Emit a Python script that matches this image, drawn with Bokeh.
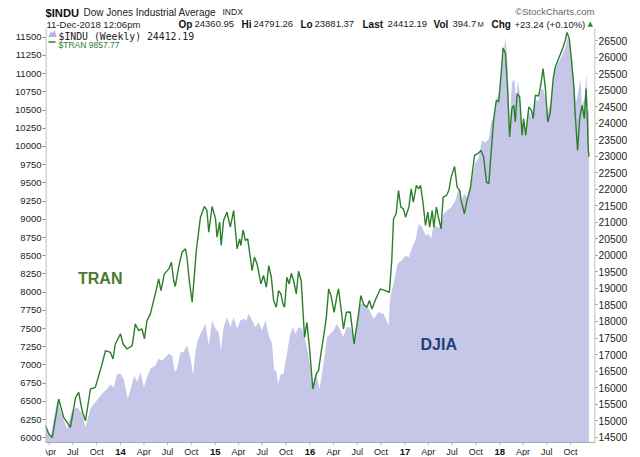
import pandas as pd
from bokeh.plotting import figure
from bokeh.models import (Range1d, LinearAxis, FixedTicker, Label,
                          PolyAnnotation, BoxAnnotation)
from bokeh.embed import file_html
from bokeh.resources import INLINE

# ---------------- data ----------------
tran_dates = [
    "2013-03-18", "2013-03-31", "2013-04-13", "2013-05-08", "2013-05-27", "2013-06-22", "2013-07-12",
    "2013-07-24", "2013-08-06", "2013-08-19", "2013-09-07", "2013-09-26", "2013-10-22", "2013-11-04",
    "2013-11-23", "2013-12-03", "2013-12-12", "2014-01-01", "2014-01-11", "2014-01-26", "2014-02-15",
    "2014-02-27", "2014-03-12", "2014-03-25", "2014-04-03", "2014-04-13", "2014-04-26", "2014-05-15",
    "2014-05-28", "2014-06-06", "2014-06-19", "2014-07-06", "2014-07-16", "2014-07-25", "2014-07-31",
    "2014-08-13", "2014-08-26", "2014-09-08", "2014-09-14", "2014-09-23", "2014-10-04", "2014-10-12",
    "2014-10-20", "2014-11-05", "2014-11-20", "2014-11-30", "2014-12-07", "2014-12-20", "2015-01-02",
    "2015-01-08", "2015-01-18", "2015-01-24", "2015-02-02", "2015-02-15", "2015-02-28", "2015-03-13",
    "2015-03-26", "2015-04-05", "2015-04-10", "2015-04-18", "2015-04-27", "2015-05-06", "2015-05-23",
    "2015-06-01", "2015-06-11", "2015-06-26", "2015-07-06", "2015-07-17", "2015-07-26", "2015-08-05",
    "2015-08-14", "2015-08-24", "2015-09-02", "2015-09-11", "2015-09-19", "2015-09-25", "2015-10-04",
    "2015-10-13", "2015-10-21", "2015-10-30", "2015-11-09", "2015-11-18", "2015-11-28", "2015-12-11",
    "2015-12-20", "2015-12-30", "2016-01-12", "2016-01-25", "2016-02-03", "2016-02-12", "2016-02-22",
    "2016-03-04", "2016-03-13", "2016-03-22", "2016-04-03", "2016-04-14", "2016-04-20", "2016-04-29",
    "2016-05-09", "2016-05-20", "2016-06-04", "2016-06-19", "2016-07-06", "2016-07-15", "2016-07-25",
    "2016-08-07", "2016-08-17", "2016-08-27", "2016-09-08", "2016-09-28", "2016-10-17", "2016-11-02",
    "2016-11-11", "2016-11-18", "2016-11-28", "2016-12-07", "2016-12-16", "2016-12-26", "2017-01-03",
    "2017-01-16", "2017-01-25", "2017-02-02", "2017-02-14", "2017-02-23", "2017-03-02", "2017-03-12",
    "2017-03-21", "2017-03-30", "2017-04-06", "2017-04-16", "2017-04-22", "2017-05-02", "2017-05-11",
    "2017-05-20", "2017-05-28", "2017-06-10", "2017-06-19", "2017-06-28", "2017-07-11", "2017-07-21",
    "2017-07-31", "2017-08-05", "2017-08-18", "2017-08-28", "2017-09-10", "2017-09-26", "2017-10-08",
    "2017-10-21", "2017-10-31", "2017-11-11", "2017-11-20", "2017-11-29", "2017-12-09", "2017-12-19",
    "2017-12-28", "2018-01-06", "2018-01-14", "2018-01-23", "2018-02-01", "2018-02-08", "2018-02-17",
    "2018-02-24", "2018-03-02", "2018-03-09", "2018-03-19", "2018-03-28", "2018-04-03", "2018-04-11",
    "2018-04-23", "2018-05-03", "2018-05-10", "2018-05-18", "2018-05-31", "2018-06-09", "2018-06-17",
    "2018-06-26", "2018-07-05", "2018-07-15", "2018-07-26", "2018-08-03", "2018-08-16", "2018-08-29",
    "2018-09-11", "2018-09-17", "2018-09-26", "2018-10-04", "2018-10-13", "2018-10-19", "2018-10-28",
    "2018-11-05", "2018-11-14", "2018-11-23", "2018-11-30", "2018-12-05", "2018-12-08", "2018-12-11",
]
tran_values = [
    6165, 6051, 6004, 6532, 6279, 6142, 6554,
    6623, 6371, 6234, 6670, 6692, 7013, 7196,
    7173, 7082, 7288, 7426, 7288, 7219, 7265,
    7563, 7471, 7494, 7357, 7609, 7701, 7976,
    8182, 8021, 8251, 8319, 8410, 8159, 8076,
    8342, 8548, 8595, 8479, 8159, 7861, 8204,
    8571, 9029, 9176, 9121, 8823, 9176, 9007,
    8754, 8961, 8640, 8984, 9098, 8892, 9121,
    8595, 8732, 8640, 8856, 8709, 8732, 8296,
    8479, 8388, 8113, 8228, 8067, 8365, 8204,
    7884, 7792, 8021, 7976, 7838, 7792, 8204,
    8113, 8259, 8159, 7976, 8287, 8159, 7379,
    7585, 7242, 6670, 6876, 6921, 7151, 7379,
    7654, 8044, 7953, 7723, 7953, 8044, 7792,
    7494, 7723, 7728, 7288, 7701, 7953, 7838,
    7792, 7884, 7769, 7884, 8044, 8021, 7998,
    8434, 9007, 9076, 9396, 9167, 9144, 9029,
    9167, 9419, 9236, 9465, 9419, 9465, 9213,
    8915, 9098, 8892, 9121, 8892, 9167, 9007,
    8869, 9304, 9327, 9396, 9579, 9726, 9442,
    9396, 9259, 9076, 9259, 9430, 9878, 9901,
    9946, 9854, 9510, 9488, 9923, 10382, 10634,
    10611, 10978, 11353, 11276, 10748, 10129, 10520,
    10565, 10336, 10726, 10679, 10153, 10382, 10153,
    10542, 10496, 10382, 10703, 10693, 10863, 11070,
    10795, 10336, 10473, 10932, 11092, 11207, 11321,
    11459, 11565, 11482, 11207, 10840, 10428, 9946,
    10382, 10565, 10382, 10795, 10336, 9970, 9858,
]

djia_dates = [
    "2013-03-18", "2013-04-06", "2013-05-02", "2013-05-21", "2013-06-09", "2013-06-28", "2013-07-18",
    "2013-08-06", "2013-08-19", "2013-09-07", "2013-09-26", "2013-10-22", "2013-11-10", "2013-11-23",
    "2013-12-06", "2013-12-19", "2014-01-01", "2014-01-13", "2014-01-29", "2014-02-11", "2014-02-23",
    "2014-03-06", "2014-03-19", "2014-04-01", "2014-04-13", "2014-04-26", "2014-05-15", "2014-05-28",
    "2014-06-10", "2014-06-23", "2014-07-06", "2014-07-19", "2014-07-29", "2014-08-07", "2014-08-20",
    "2014-09-01", "2014-09-14", "2014-09-27", "2014-10-08", "2014-10-16", "2014-10-25", "2014-11-05",
    "2014-11-24", "2014-12-07", "2014-12-20", "2015-01-02", "2015-01-14", "2015-01-23", "2015-02-02",
    "2015-02-15", "2015-02-28", "2015-03-13", "2015-03-26", "2015-04-08", "2015-04-20", "2015-05-01",
    "2015-05-10", "2015-05-23", "2015-06-04", "2015-06-17", "2015-06-30", "2015-07-13", "2015-07-26",
    "2015-08-08", "2015-08-16", "2015-08-24", "2015-08-31", "2015-09-11", "2015-09-21", "2015-10-04",
    "2015-10-17", "2015-10-27", "2015-11-05", "2015-11-18", "2015-12-01", "2015-12-14", "2015-12-23",
    "2016-01-02", "2016-01-12", "2016-01-25", "2016-02-07", "2016-02-20", "2016-03-07", "2016-03-19",
    "2016-04-01", "2016-04-14", "2016-04-27", "2016-05-09", "2016-05-20", "2016-06-04", "2016-06-19",
    "2016-07-13", "2016-08-07", "2016-09-02", "2016-09-21", "2016-10-10", "2016-10-30", "2016-11-05",
    "2016-11-18", "2016-12-03", "2016-12-20", "2017-01-03", "2017-01-16", "2017-01-29", "2017-02-10",
    "2017-02-23", "2017-03-08", "2017-03-21", "2017-04-02", "2017-04-11", "2017-04-22", "2017-05-05",
    "2017-05-18", "2017-05-30", "2017-06-12", "2017-06-28", "2017-07-14", "2017-07-27", "2017-08-05",
    "2017-08-18", "2017-08-28", "2017-09-10", "2017-09-29", "2017-10-12", "2017-10-20", "2017-10-24",
    "2017-11-07", "2017-11-20", "2017-11-29", "2017-12-09", "2017-12-19", "2017-12-28", "2018-01-06",
    "2018-01-16", "2018-01-24", "2018-02-01", "2018-02-08", "2018-02-17", "2018-02-27", "2018-03-06",
    "2018-03-11", "2018-03-19", "2018-03-28", "2018-04-03", "2018-04-10", "2018-04-23", "2018-05-03",
    "2018-05-10", "2018-05-18", "2018-05-31", "2018-06-09", "2018-06-17", "2018-06-26", "2018-07-05",
    "2018-07-15", "2018-07-26", "2018-08-03", "2018-08-16", "2018-08-29", "2018-09-11", "2018-09-20",
    "2018-09-27", "2018-10-04", "2018-10-13", "2018-10-22", "2018-10-28", "2018-11-08", "2018-11-14",
    "2018-11-23", "2018-12-01", "2018-12-05", "2018-12-08", "2018-12-11",
]
djia_values = [
    14924, 14500, 15610, 15156, 14753, 15308, 15408,
    15207, 14802, 15359, 15559, 15813, 15964, 16094,
    16012, 16417, 16417, 16266, 15661, 16012, 16366,
    16164, 16467, 16012, 16315, 16569, 16669, 16871,
    16820, 16920, 17023, 16971, 16467, 16569, 17071,
    17071, 17274, 16920, 16380, 17050, 17425, 17627,
    17930, 17274, 18030, 17779, 17677, 17123, 17829,
    18130, 17829, 18130, 17779, 18030, 18081, 18030,
    18232, 18030, 17829, 17980, 17728, 18030, 17576,
    17325, 16517, 16517, 16115, 16417, 16417, 17023,
    17627, 17829, 17627, 17829, 17779, 17425, 17123,
    16618, 16012, 16417, 15964, 16618, 17525, 17627,
    17728, 17930, 17728, 17525, 17829, 17829, 17525,
    18535, 18484, 18081, 18283, 18232, 17879, 18736,
    19140, 19745, 19845, 19996, 19945, 20248, 20450,
    20955, 20853, 20601, 20652, 20501, 20955, 20853,
    20853, 21257, 21357, 21458, 21660, 22014, 21660,
    21863, 21760, 22040, 22800, 22950, 23300, 23475,
    23424, 23525, 24029, 24180, 24736, 24836, 25541,
    26146, 26600, 25644, 23929, 25239, 25339, 24634,
    25290, 24936, 23525, 24131, 23626, 24383, 24180,
    24433, 24685, 24685, 25039, 25039, 24785, 24331,
    24634, 25341, 25644, 25844, 26046, 26297, 26600,
    26449, 25995, 25390, 24634, 24836, 25341, 24534,
    24736, 25493, 24331, 24383, 24412,
]

month_tick_dates = ["2013-04-01", "2013-07-01", "2013-10-01",
                    "2014-04-01", "2014-07-01", "2014-10-01",
                    "2015-04-01", "2015-07-01", "2015-10-01",
                    "2016-04-01", "2016-07-01", "2016-10-01",
                    "2017-04-01", "2017-07-01", "2017-10-01",
                    "2018-04-01", "2018-07-01", "2018-10-01"]
month_tick_labels = ["Apr", "Jul", "Oct"] * 6
year_tick_dates = ["2014-01-01", "2015-01-01", "2016-01-01", "2017-01-01", "2018-01-01"]
year_tick_labels = ["14", "15", "16", "17", "18"]
tran_ticks = list(range(6000, 11501, 250))
djia_ticks = list(range(14500, 26501, 500))

header_values = [("Op", "24360.95"), ("Hi", "24791.26"), ("Lo", "23881.37"),
                 ("Last", "24412.19"), ("Vol", "394.7"), ("Chg", "+23.24 (+0.10%)")]

# ---------------- chart ----------------
FONT = "Liberation Sans"
W, H = 632, 456            # canvas size
FL, FR = 45, 595           # frame left / right (picture px)
AXIS_Y, TOP_Y = 442, 28    # x-axis line and top of the plotting area (picture px)


def ms(d):
    return pd.Timestamp(d).value / 1e6


# picture-pixel helpers for annotations (frame spans the full canvas height)
def fx(px):
    return px - FL


def fy(py):
    return H - py


tran_x = pd.to_datetime(tran_dates)
djia_x = pd.to_datetime(djia_dates)

# axis scales: TRAN 11500 at y=36.7, 6000 at y=437.3 ; DJIA 26500 at y=40, 14500 at y=436.7
t_per_px = 5500 / (437.3 - 36.7)
d_per_px = 12000 / (436.7 - 40.0)
tran_range = Range1d(11500 + 36.7 * t_per_px - H * t_per_px, 11500 + 36.7 * t_per_px)
djia_range = Range1d(26500 + 40.0 * d_per_px - H * d_per_px, 26500 + 40.0 * d_per_px)
djia_base = 26500 - (AXIS_Y - 40.0) * d_per_px   # value at the x-axis line

p = figure(width=W, height=H, x_axis_type="datetime",
           x_range=Range1d(ms("2013-03-18"), ms("2019-01-05")),
           y_range=tran_range, x_axis_location=None, title=None,
           output_backend="svg", toolbar_location=None,
           min_border_left=FL, min_border_right=W - FR,
           min_border_top=0, min_border_bottom=0)
p.extra_y_ranges = {"djia": djia_range}
p.background_fill_color = "white"
p.border_fill_color = "white"
p.outline_line_color = None
p.grid.visible = False

p.varea(x=djia_x, y1=djia_base, y2=djia_values, y_range_name="djia",
        fill_color="#c6c7e8", fill_alpha=1.0)
p.line(tran_x, tran_values, line_color="#2b7f2b", line_width=1.4)

AX = "#aaaaaa"
TK = "#888888"

ly = p.yaxis[0]
ly.ticker = FixedTicker(ticks=tran_ticks)
ly.major_label_text_font = FONT
ly.major_label_text_font_size = "9.5px"
ly.major_label_text_color = "#222222"
ly.major_tick_out = 3
ly.major_tick_in = 0
ly.minor_tick_out = 0
ly.minor_tick_in = 0
ly.major_label_standoff = 1
ly.axis_line_color = None
ly.major_tick_line_color = TK

ry = LinearAxis(y_range_name="djia", ticker=FixedTicker(ticks=djia_ticks))
ry.major_label_text_font = FONT
ry.major_label_text_font_size = "10.3px"
ry.major_label_text_color = "#222222"
ry.major_tick_out = 2
ry.major_tick_in = 0
ry.minor_tick_out = 0
ry.minor_tick_in = 0
ry.major_label_standoff = 1
ry.axis_line_color = None
ry.major_tick_line_color = TK
p.add_layout(ry, "right")


def box(x0, x1, y0, y1, color):
    p.add_layout(BoxAnnotation(left=fx(x0), right=fx(x1), bottom=fy(y1), top=fy(y0),
                               left_units="screen", right_units="screen",
                               bottom_units="screen", top_units="screen",
                               fill_color=color, fill_alpha=1, line_color=None))


# axis lines limited to the plotting area
box(FL, FL + 1, TOP_Y, AXIS_Y + 0.5, AX)
box(FR - 1, FR, TOP_Y, AXIS_Y + 0.5, AX)
box(FL, FR, AXIS_Y - 0.5, AXIS_Y + 0.5, AX)

# x ticks and tick labels (months regular, years bold)
for d in month_tick_dates + year_tick_dates:
    p.add_layout(BoxAnnotation(left=ms(d), right=ms(d), left_units="data", right_units="data",
                               bottom=fy(AXIS_Y + 3), top=fy(AXIS_Y),
                               bottom_units="screen", top_units="screen",
                               fill_alpha=0, line_color=TK, line_width=1))
for d, text in zip(month_tick_dates, month_tick_labels):
    p.add_layout(Label(x=ms(d), y=fy(451), x_units="data", y_units="screen", text=text,
                       text_align="center", text_baseline="alphabetic",
                       text_font=FONT, text_font_size="9px", text_color="#222222"))
for d, text in zip(year_tick_dates, year_tick_labels):
    p.add_layout(Label(x=ms(d), y=fy(451), x_units="data", y_units="screen", text=text,
                       text_align="center", text_baseline="alphabetic",
                       text_font=FONT, text_font_size="9.5px", text_font_style="bold",
                       text_color="#111111"))


def lab(px, py, text, size="9.5px", bold=False, color="#222222", font=FONT, align="left"):
    p.add_layout(Label(x=fx(px), y=fy(py), x_units="screen", y_units="screen", text=text,
                       text_align=align, text_baseline="alphabetic",
                       text_font=font, text_font_size=size,
                       text_font_style="bold" if bold else "normal", text_color=color))


# header line 1
lab(45, 12, "$INDU", size="11.2px", bold=True, color="#111111")
lab(83, 11.5, "Dow Jones Industrial Average", size="10px")
lab(222, 11.5, "INDX", size="8.5px")
lab(594, 11, "\u00a9StockCharts.com", size="9.5px", color="#666666", align="right")
# header line 2
lab(46, 23.5, "11-Dec-2018 12:06pm", size="9.5px")
hx = [(178, 194), (241, 253), (300, 314), (362, 387), (433, 452), (491, 514)]
for (kx, vx), (k, v) in zip(hx, header_values):
    lab(kx, 23.5, k, size="10px", bold=True, color="#111111")
    lab(vx, 23.5, v, size="9.5px")
lab(477, 23.5, "M", size="7.5px")
lab(587, 23, "\u25b2", size="7px", color="#2b8a2b", font="DejaVu Sans")

# legend inside the plotting area
p.add_layout(PolyAnnotation(xs=[fx(48), fx(50.5), fx(52), fx(54), fx(56)],
                            ys=[fy(36.5), fy(31), fy(33), fy(29.5), fy(36.5)],
                            xs_units="screen", ys_units="screen",
                            fill_color="#b4b6e0", fill_alpha=1, line_color="#9a9cd0",
                            line_width=0.5))
lab(58, 35.5, "$INDU (Weekly) 24412.19", size="9.8px", color="#222222", font="DejaVu Sans Mono")
box(48, 55, 40.7, 42.3, "#2b7f2b")
lab(58, 44.5, "$TRAN 9857.77", size="8.5px", color="#2b7f2b")

# series annotations
lab(77.5, 277.5, "TRAN", size="16px", bold=True, color="#4c7a2c")
lab(420, 343.5, "DJIA", size="16px", bold=True, color="#1f3f7f")

open("out.html", "w").write(file_html(p, INLINE))
